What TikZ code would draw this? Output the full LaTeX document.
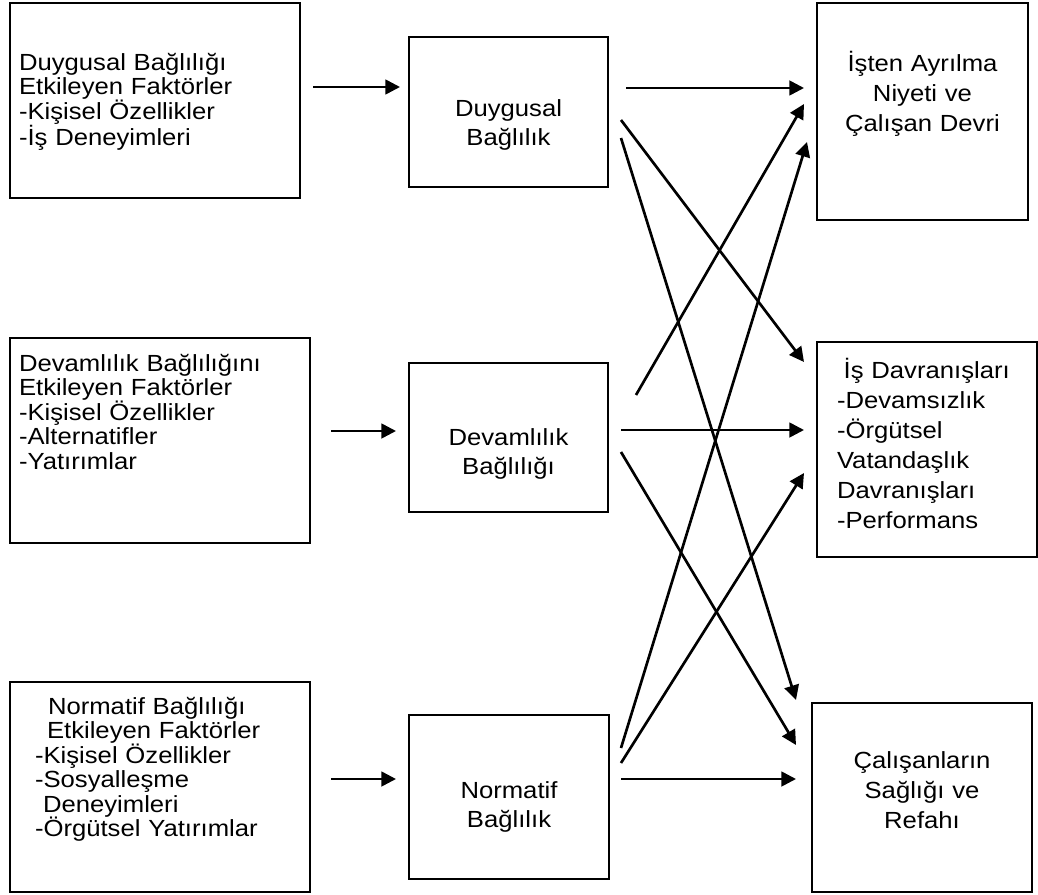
\documentclass[tikz,border=0pt]{standalone}
\usepackage{fontspec}
\setmainfont{Liberation Sans}[FakeStretch=1.1]
\usetikzlibrary{arrows.meta}

\begin{document}
\begin{tikzpicture}
	[x=0.75pt,y=-0.75pt,
	%Styles
	box/.style={draw,line width=1.5pt,inner xsep=6.75pt,inner ysep=2pt},
	factor box/.style={box,align=left,font=\fontsize{17.5}{18.3}\selectfont},
	main box/.style={box,align=center,font=\fontsize{17.5}{21.5}\selectfont},
	result box/.style={box,align=center,font=\fontsize{17.5}{22.5}\selectfont},
	link/.style={line width=2pt,-{Triangle[length=11pt,width=11pt]}}
	]

	%The graphic
	\useasboundingbox (0,0) rectangle (1038,895);

	%Factors
	\node[factor box,minimum width=217.5pt,minimum height=146.25pt,text width=204pt,text height=15pt,text depth=60.15pt] (f1) at (155,100.5)
		{Duygusal Bağlılığı\\Etkileyen Faktörler\\-Kişisel Özellikler\\-İş Deneyimleri};
	\node[factor box,minimum width=225pt,minimum height=153.75pt,text width=211.5pt,text height=15pt,text depth=118.65pt] (f2) at (160,440.5)
		{Devamlılık Bağlılığını\\Etkileyen Faktörler\\-Kişisel Özellikler\\-Alternatifler\\-Yatırımlar};
	\node[factor box,minimum width=225pt,minimum height=157.5pt,inner xsep=18.75pt,text width=187.5pt,text height=15pt,text depth=123.9pt] (f3) at (160,787)
		{\hspace*{9.75pt}Normatif Bağlılığı\\\hspace*{9pt}Etkileyen Faktörler\\-Kişisel Özellikler\\-Sosyalleşme\\\hspace*{6pt}Deneyimleri\\-Örgütsel Yatırımlar};

	%Commitment
	\node[main box,minimum width=149.25pt,minimum height=112.5pt,text width=135.75pt,text height=36.6pt,text depth=30pt] (db) at (508.5,112) {Duygusal\\Bağlılık};
	\node[main box,minimum width=149.25pt,minimum height=111.75pt,text width=135.75pt,text height=41.85pt,text depth=30pt] (dv) at (508.5,437.5) {Devamlılık\\Bağlılığı};
	\node[main box,minimum width=150pt,minimum height=123pt,text width=136.5pt,text height=32.1pt,text depth=30pt] (nb) at (509,797) {Normatif\\Bağlılık};

	%Results
	\node[result box,minimum width=158.25pt,minimum height=162.75pt,text width=144.75pt,text height=15pt,text depth=75.15pt] (ia) at (922.5,111.5) {İşten Ayrılma\\Niyeti ve\\Çalışan Devri};
	\node[result box,align=left,minimum width=165pt,minimum height=161.25pt,inner xsep=15pt,text width=135pt,text height=15pt,text depth=121.65pt] (id) at (927,449.5)
		{\hspace*{5pt}İş Davranışları\\-Devamsızlık\\-Örgütsel\\Vatandaşlık\\Davranışları\\-Performans};
	\node[result box,minimum width=165pt,minimum height=141.75pt,text width=151.5pt,text height=15pt,text depth=58.65pt] (cs) at (922,797.5) {Çalışanların\\Sağlığı ve\\Refahı};

	%Links
	\draw[link] ([shift={(12,-13.5)}]f1.east) -- ([shift={(-8,-25)}]db.west);
	\draw[link] ([shift={(20,-9.5)}]f2.east) -- ([shift={(-12,-6.5)}]dv.west);
	\draw[link] ([shift={(20,-8)}]f3.east) -- ([shift={(-12,-18)}]nb.west);

	\draw[link] ([shift={(17,-24)}]db.east) -- ([shift={(-12,-23.5)}]ia.west);
	\draw[link] ([shift={(12,8)}]db.east) -- ([shift={(-12,-87.5)}]id.west);
	\draw[link] ([shift={(12,26)}]db.east) -- ([shift={(-15,-97.5)}]cs.west);

	\draw[link] ([shift={(27,-42.5)}]dv.east) -- ([shift={(-12,-7.5)}]ia.west);
	\draw[link] ([shift={(12,-7.5)}]dv.east) -- ([shift={(-12,-19.5)}]id.west);
	\draw[link] ([shift={(12,14.5)}]dv.east) -- ([shift={(-15,-52.5)}]cs.west);

	\draw[link] ([shift={(11,-49)}]nb.east) -- ([shift={(-9,30.5)}]ia.west);
	\draw[link] ([shift={(11,-34)}]nb.east) -- ([shift={(-12,23.5)}]id.west);
	\draw[link] ([shift={(11,-18)}]nb.east) -- ([shift={(-15,-18.5)}]cs.west);
\end{tikzpicture}
\end{document}
